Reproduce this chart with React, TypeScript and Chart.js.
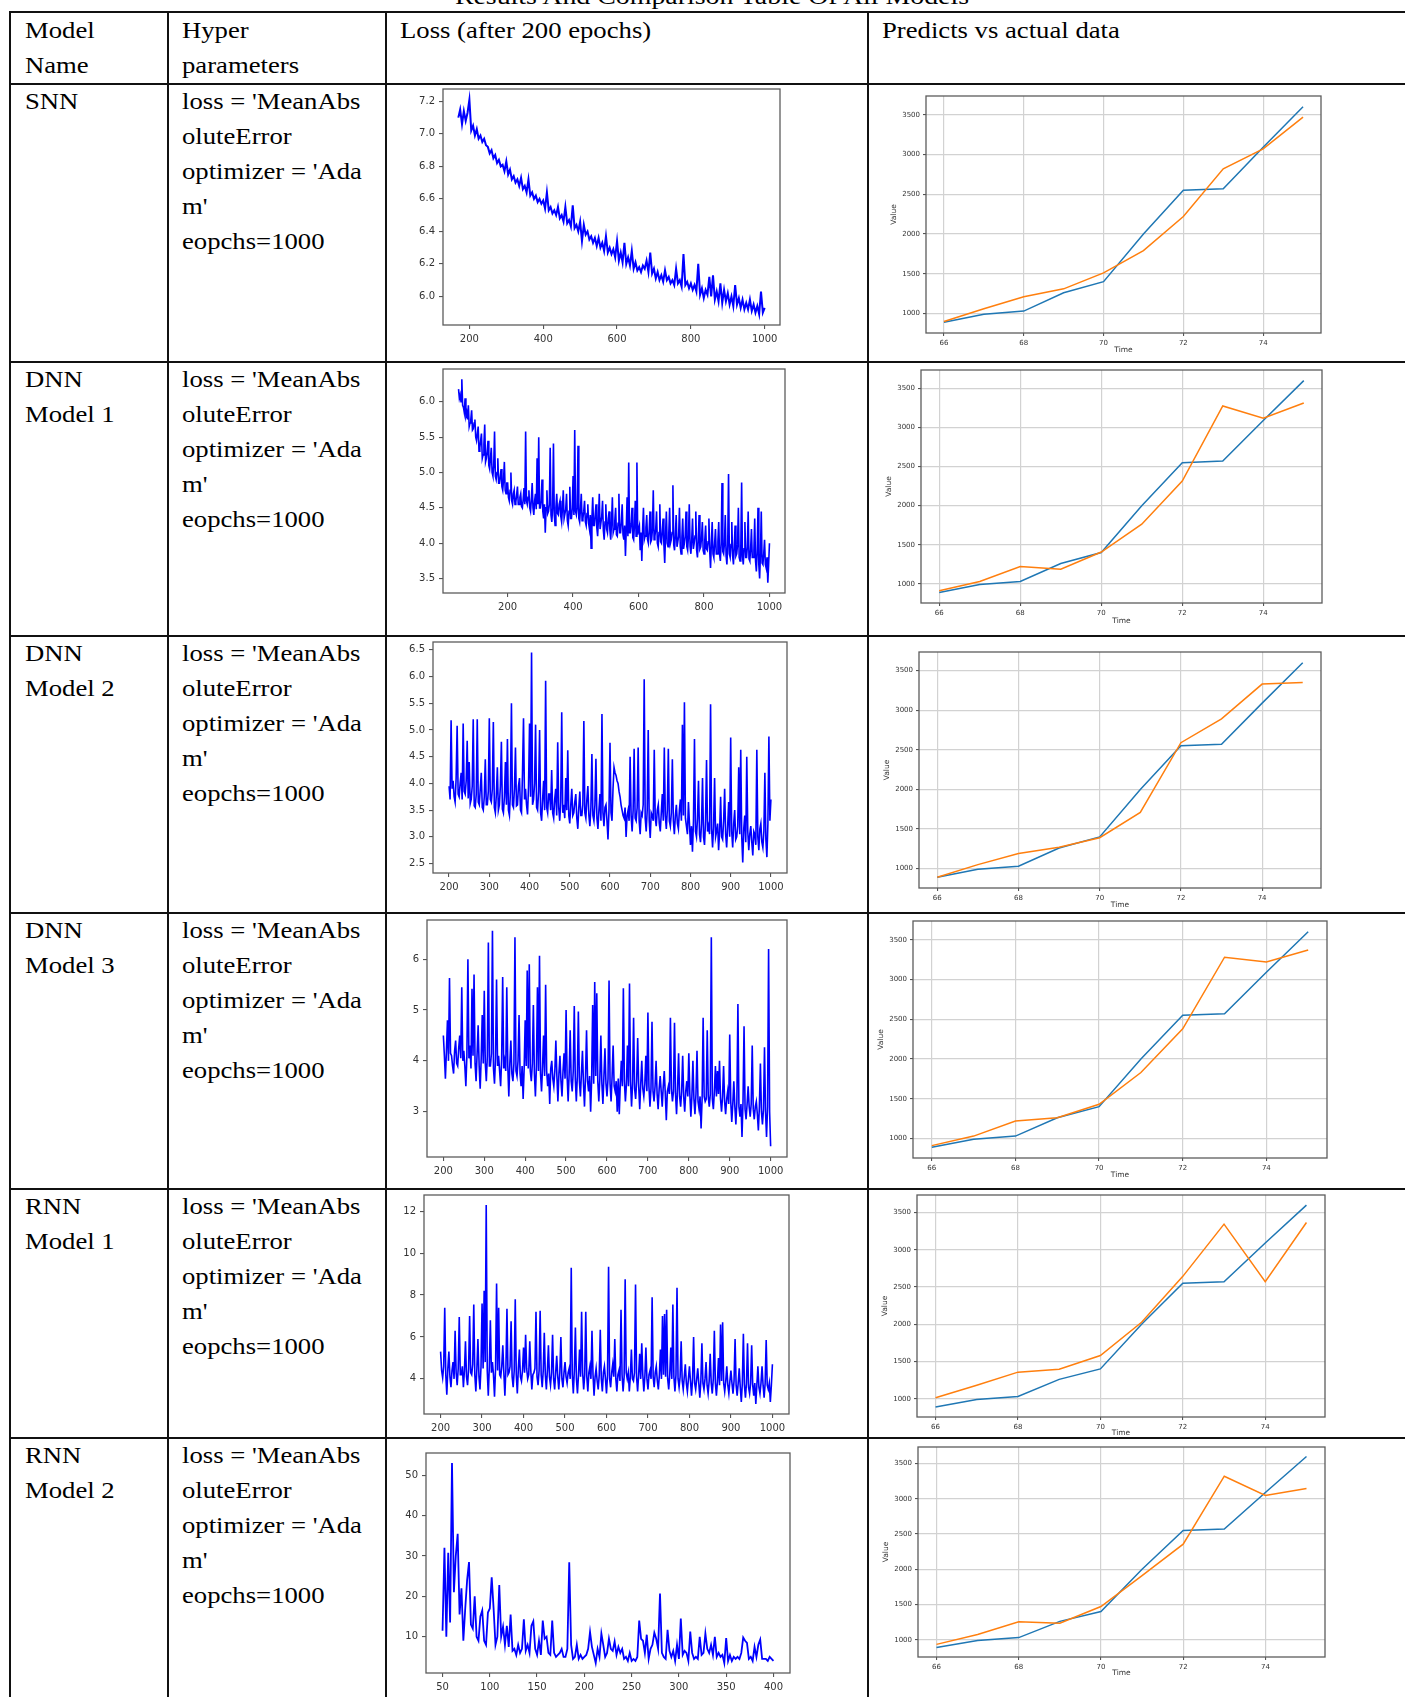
import React, { useEffect, useRef } from "react";
import { Chart, registerables } from "chart.js";

Chart.register(...registerables);

// ---------------- text ----------------
const TITLE = "Results And Comparison Table Of All Models";
const HEADER_MODEL = ["Model", "Name"];
const HEADER_HYPER = ["Hyper", "parameters"];
const HEADER_LOSS = ["Loss (after 200 epochs)"];
const HEADER_PRED = ["Predicts vs actual data"];
const MODEL_NAMES = [["SNN"], ["DNN", "Model 1"], ["DNN", "Model 2"], ["DNN", "Model 3"], ["RNN", "Model 1"], ["RNN", "Model 2"]];
const HYPER_LINES = ["loss = 'MeanAbs", "oluteError", "optimizer = 'Ada", "m'", "eopchs=1000"];

// ---------------- predictions vs actual ----------------
const TIME = [66, 67, 68, 69, 70, 71, 72, 73, 74, 75];
const ACTUAL = [890, 990, 1030, 1260, 1400, 2000, 2550, 2570, 3090, 3600];
const PRED_SNN = [900, 1060, 1210, 1310, 1510, 1790, 2220, 2820, 3070, 3470];
const PRED_DNN1 = [910, 1030, 1220, 1186, 1407, 1763, 2314, 3275, 3119, 3314];
const PRED_DNN2 = [890, 1050, 1190, 1270, 1390, 1710, 2590, 2890, 3330, 3350];
const PRED_DNN3 = [910, 1030, 1220, 1260, 1430, 1830, 2380, 3280, 3220, 3370];
const PRED_RNN1 = [1013, 1180, 1357, 1397, 1580, 2026, 2643, 3344, 2571, 3366];
const PRED_RNN2 = [934, 1075, 1254, 1235, 1471, 1909, 2356, 3321, 3048, 3146];
const TIME_TICKS = [66, 68, 70, 72, 74];
const VALUE_TICKS = [1000, 1500, 2000, 2500, 3000, 3500];

// ---------------- loss curves (epoch = start + i*step) ----------------
const LOSS_SNN_START = 170;
const LOSS_SNN_STEP = 5;
const LOSS_SNN = [
  7.10, 7.15, 7.06, 7.14, 7.08, 7.13,
  7.21, 7.02, 7.05, 6.99, 7.03, 6.97, 6.99, 6.95, 6.97, 6.93,
  6.92, 6.88, 6.90, 6.85, 6.87, 6.82, 6.84, 6.80, 6.81, 6.77,
  6.83, 6.75, 6.78, 6.72, 6.74, 6.70, 6.72, 6.68, 6.73, 6.66,
  6.68, 6.64, 6.72, 6.62, 6.64, 6.60, 6.62, 6.58, 6.60, 6.57,
  6.59, 6.54, 6.64, 6.53, 6.55, 6.51, 6.53, 6.50, 6.55, 6.48,
  6.50, 6.46, 6.55, 6.45, 6.47, 6.43, 6.56, 6.42, 6.44, 6.40,
  6.46, 6.34, 6.44, 6.38, 6.40, 6.35, 6.37, 6.33, 6.36, 6.31,
  6.36, 6.30, 6.33, 6.28, 6.37, 6.27, 6.30, 6.26, 6.29, 6.24,
  6.34, 6.22, 6.27, 6.21, 6.33, 6.20, 6.24, 6.19, 6.28, 6.17,
  6.21, 6.16, 6.18, 6.15, 6.19, 6.17, 6.22, 6.15, 6.27, 6.14,
  6.17, 6.11, 6.15, 6.10, 6.13, 6.09, 6.16, 6.10, 6.12, 6.08,
  6.10, 6.07, 6.17, 6.08, 6.10, 6.06, 6.26, 6.07, 6.09, 6.05,
  6.08, 6.04, 6.07, 6.03, 6.20, 6.01, 6.05, 5.99, 6.04, 6.01,
  6.12, 6.00, 6.13, 5.98, 6.03, 5.97, 6.08, 5.96, 6.04, 5.97,
  6.02, 5.95, 6.00, 5.94, 6.07, 5.95, 5.99, 5.93, 5.98, 5.92,
  5.96, 5.92, 5.98, 5.91, 5.95, 5.90, 5.94, 5.89, 6.03, 5.90,
  5.93,
];

const LOSS_DNN1_START = 50;
const LOSS_DNN1_STEP = 2.5;
const LOSS_DNN1 = [
  6.18, 6.05, 6.10, 6.00, 6.32, 5.95, 5.92, 5.85, 6.05, 5.80, 5.85, 5.75, 5.95, 5.65, 5.70, 5.75, 5.88, 5.60, 5.62, 5.70,
  5.75, 5.50, 5.45, 5.55, 5.65, 5.30, 5.35, 5.45, 5.55, 5.20, 5.25, 5.40, 5.68, 5.15, 5.20, 5.30, 5.45, 5.10, 5.05, 5.20,
  5.35, 5.00, 4.95, 5.10, 5.58, 4.95, 4.90, 5.00, 5.20, 4.85, 4.85, 4.95, 5.05, 4.80, 4.75, 4.90, 5.15, 4.75, 4.70, 4.85,
  4.85, 4.65, 4.60, 4.75, 5.00, 4.60, 4.55, 4.70, 4.75, 4.55, 4.58, 4.68, 4.80, 4.55, 4.55, 4.65, 4.70, 4.52, 4.50, 4.62,
  4.78, 4.55, 5.58, 4.60, 4.55, 4.65, 4.75, 4.50, 4.45, 4.62, 4.85, 4.50, 4.40, 4.60, 4.70, 4.48, 5.20, 4.55, 5.50, 4.50,
  4.50, 4.60, 4.90, 4.45, 4.35, 4.55, 4.15, 4.50, 4.75, 4.42, 4.45, 4.55, 5.35, 4.40, 4.30, 4.50, 5.41, 4.40, 4.25, 4.50,
  4.70, 4.42, 4.40, 4.55, 4.60, 4.38, 4.30, 4.50, 4.75, 4.35, 4.35, 4.48, 4.70, 4.32, 4.25, 4.45, 4.80, 4.35, 4.35, 4.50,
  4.95, 4.40, 5.60, 4.45, 4.40, 4.50, 5.38, 4.35, 4.30, 4.48, 4.70, 4.32, 4.35, 4.45, 4.60, 4.30, 4.25, 4.42, 4.55, 4.28,
  4.20, 4.40, 3.93, 4.35, 4.65, 4.25, 4.25, 4.40, 4.55, 4.22, 4.10, 4.35, 4.70, 4.20, 4.20, 4.38, 4.60, 4.18, 4.05, 4.30,
  4.55, 4.20, 4.15, 4.35, 4.45, 4.18, 4.05, 4.30, 4.65, 4.15, 4.20, 4.32, 4.50, 4.12, 4.10, 4.28, 4.70, 4.15, 4.15, 4.30,
  4.55, 4.12, 4.05, 4.25, 3.82, 4.20, 4.65, 4.10, 5.14, 4.15, 4.15, 4.28, 4.50, 4.08, 4.05, 4.25, 4.60, 4.10, 5.14, 4.12,
  4.20, 4.25, 3.90, 4.15, 3.75, 4.20, 4.50, 4.05, 4.10, 4.22, 4.40, 4.05, 4.00, 4.18, 4.45, 4.02, 4.05, 4.20, 4.75, 4.05,
  4.10, 4.20, 4.45, 4.00, 3.95, 4.15, 4.55, 4.02, 4.00, 4.18, 4.35, 3.98, 3.72, 4.12, 4.45, 4.00, 3.95, 4.15, 4.50, 4.00,
  4.05, 4.15, 4.82, 3.98, 3.90, 4.12, 4.40, 3.95, 3.95, 4.10, 4.50, 3.95, 3.85, 4.08, 4.35, 3.92, 4.00, 4.10, 4.45, 3.95,
  3.90, 4.10, 4.55, 3.95, 3.85, 4.05, 4.35, 3.92, 4.00, 4.10, 4.45, 3.90, 3.80, 4.05, 4.40, 3.92, 3.95, 4.08, 4.30, 3.90,
  3.85, 4.05, 4.25, 3.92, 3.90, 4.02, 4.35, 3.88, 3.65, 4.00, 4.30, 3.85, 3.80, 4.00, 4.20, 3.85, 3.85, 4.02, 4.30, 3.85,
  3.75, 4.00, 4.85, 3.88, 3.85, 4.00, 4.40, 3.82, 3.70, 3.98, 4.98, 3.85, 3.80, 3.98, 4.30, 3.82, 3.70, 3.95, 4.25, 3.82,
  3.85, 3.98, 4.50, 3.80, 3.75, 3.95, 4.86, 3.82, 3.70, 3.92, 4.30, 3.80, 3.80, 3.95, 4.45, 3.78, 3.75, 3.92, 4.20, 3.80,
  3.80, 3.90, 4.35, 3.75, 3.60, 3.88, 4.50, 3.70, 3.50, 3.85, 4.45, 3.72, 3.70, 3.85, 4.05, 3.70, 3.65, 3.80, 3.44, 3.70,
  4.00,
];

const LOSS_DNN2_START = 200;
const LOSS_DNN2_STEP = 2.5;
const LOSS_DNN2 = [
  3.95, 3.70, 5.18, 3.90, 4.05, 3.75, 3.65, 4.10, 5.08, 3.80, 3.75, 4.00, 4.20, 3.70, 5.12, 3.85, 3.80, 4.05, 4.80, 3.72,
  4.40, 3.62, 3.70, 3.95, 5.20, 3.58, 3.55, 3.80, 5.20, 3.65, 3.60, 3.90, 4.20, 3.55, 3.50, 3.75, 4.45, 3.60, 3.60, 3.85,
  5.22, 3.70, 3.65, 3.90, 5.15, 3.55, 3.45, 3.80, 4.30, 3.50, 3.60, 3.95, 4.78, 3.52, 3.45, 3.75, 4.40, 3.60, 4.83, 3.50,
  3.40, 3.85, 5.50, 3.60, 3.55, 3.90, 4.67, 3.58, 3.60, 3.95, 4.10, 3.50, 3.45, 4.20, 5.22, 3.70, 3.90, 3.60, 3.42, 3.95,
  5.12, 3.75, 6.45, 3.60, 3.70, 4.00, 5.10, 3.55, 3.50, 3.85, 5.00, 3.45, 3.30, 3.70, 4.05, 3.50, 5.92, 3.55, 3.45, 3.80,
  3.80, 3.50, 4.25, 3.45, 3.35, 3.70, 3.90, 3.40, 4.77, 3.55, 3.30, 3.65, 5.33, 3.45, 3.60, 3.35, 4.10, 3.50, 4.62, 3.40,
  3.25, 3.60, 3.90, 3.40, 3.45, 3.65, 3.80, 3.35, 3.15, 3.55, 3.85, 3.40, 3.40, 3.60, 5.17, 3.45, 3.35, 3.70, 3.95, 3.40,
  3.20, 3.55, 4.55, 3.40, 3.30, 3.60, 4.46, 3.35, 3.15, 3.50, 3.80, 3.30, 5.30, 3.45, 3.20, 3.55, 3.60, 3.30, 2.95, 3.50,
  4.76, 3.45, 3.30, 3.90, 4.30, 4.20, 4.15, 4.05, 4.00, 3.85, 3.75, 3.60, 3.50, 3.40, 3.35, 3.55, 3.00, 3.40, 3.50, 3.30,
  4.50, 3.40, 3.10, 3.50, 4.65, 3.35, 3.30, 3.55, 4.67, 3.30, 3.05, 3.45, 3.40, 3.60, 5.95, 3.35, 3.10, 3.50, 5.00, 3.30,
  2.98, 3.45, 3.40, 3.30, 4.63, 3.35, 3.20, 3.50, 3.60, 3.25, 3.10, 3.45, 3.80, 3.30, 4.67, 3.40, 3.15, 3.50, 4.65, 3.30,
  3.20, 3.45, 4.45, 3.30, 3.05, 3.40, 3.60, 3.25, 3.15, 3.50, 3.70, 3.30, 5.10, 3.40, 5.52, 3.35, 3.20, 3.05, 3.65, 3.25,
  2.85, 3.20, 2.72, 3.30, 4.83, 3.10, 3.00, 3.35, 4.05, 3.05, 2.90, 3.25, 4.10, 3.00, 2.85, 3.30, 4.44, 3.10, 3.20, 3.05,
  5.48, 3.15, 2.80, 3.20, 4.10, 3.00, 3.10, 3.25, 2.75, 3.10, 3.75, 3.00, 2.95, 3.30, 3.90, 3.05, 2.80, 3.20, 3.65, 3.00,
  4.86, 3.10, 2.80, 3.25, 3.50, 2.95, 3.00, 3.20, 4.30, 3.05, 4.63, 3.00, 2.52, 3.15, 3.40, 2.90, 4.50, 3.10, 2.75, 3.05,
  3.20, 2.90, 2.65, 3.10, 3.05, 2.85, 4.63, 3.00, 2.75, 3.15, 3.25, 2.90, 2.80, 3.10, 4.20, 2.95, 2.62, 3.25, 4.88, 3.30,
  3.70,
];

const LOSS_DNN3_START = 200;
const LOSS_DNN3_STEP = 2.5;
const LOSS_DNN3 = [
  4.50, 4.10, 3.65, 4.20, 4.80, 4.00, 5.63, 4.15, 4.10, 3.90, 3.75, 4.20, 4.40, 3.95, 3.90, 4.25, 4.50, 4.05, 5.45, 4.00,
  4.20, 3.90, 3.50, 4.10, 6.00, 4.05, 4.30, 3.85, 5.42, 4.10, 5.70, 3.95, 3.60, 4.15, 4.70, 3.90, 3.45, 4.05, 4.90, 3.95,
  5.38, 3.95, 3.60, 4.10, 6.33, 3.90, 3.90, 4.15, 6.56, 3.85, 3.55, 4.05, 5.60, 3.90, 4.10, 3.80, 3.50, 4.05, 5.65, 3.85,
  4.00, 3.80, 5.45, 3.90, 3.30, 3.95, 4.40, 3.75, 3.60, 3.95, 6.43, 3.80, 3.70, 4.00, 4.90, 3.75, 3.50, 3.90, 3.25, 3.85,
  4.80, 3.90, 5.78, 3.85, 5.90, 3.80, 3.60, 3.95, 5.10, 3.75, 3.30, 3.90, 5.45, 3.80, 6.07, 3.75, 3.40, 3.90, 4.50, 3.70,
  5.50, 3.80, 3.50, 3.75, 3.15, 3.85, 4.00, 3.65, 3.50, 3.80, 4.40, 3.70, 3.20, 3.75, 4.10, 3.60, 3.30, 3.80, 4.15, 3.65,
  5.00, 3.70, 3.20, 3.75, 4.60, 3.60, 3.40, 3.80, 5.08, 3.65, 3.20, 3.70, 4.97, 3.60, 3.30, 3.75, 4.20, 3.55, 3.10, 3.70,
  4.60, 3.60, 3.40, 3.70, 3.00, 3.65, 5.10, 3.55, 5.55, 3.70, 5.33, 3.60, 3.20, 3.65, 4.50, 3.55, 3.15, 3.70, 4.25, 3.55,
  3.30, 3.65, 5.58, 3.55, 3.20, 3.70, 4.30, 3.50, 3.40, 3.60, 3.00, 3.65, 2.95, 3.55, 4.00, 3.50, 5.43, 3.60, 3.20, 3.55,
  4.30, 3.50, 5.52, 3.60, 3.10, 3.55, 4.85, 3.45, 3.25, 3.60, 4.45, 3.50, 3.05, 3.55, 4.00, 3.45, 3.30, 3.55, 4.10, 3.40,
  4.95, 3.50, 3.10, 3.45, 4.77, 3.40, 3.20, 3.50, 4.00, 3.35, 3.05, 3.45, 3.70, 3.40, 3.10, 3.50, 3.80, 3.35, 2.83, 3.40,
  3.50, 3.35, 4.85, 3.45, 3.20, 3.40, 4.75, 3.35, 2.95, 3.45, 4.15, 3.30, 3.10, 3.40, 4.10, 3.30, 3.00, 3.40, 3.60, 3.30,
  4.15, 3.35, 2.90, 3.30, 4.00, 3.25, 2.95, 3.35, 4.20, 3.20, 3.05, 3.30, 2.67, 3.25, 4.85, 3.30, 3.20, 3.25, 4.60, 3.30,
  3.10, 3.35, 6.43, 3.25, 3.05, 3.40, 3.90, 3.30, 3.80, 3.35, 4.00, 3.25, 3.00, 3.30, 3.90, 3.20, 2.95, 3.25, 3.40, 3.15,
  4.52, 3.20, 2.80, 3.15, 3.60, 3.10, 2.75, 3.20, 5.12, 3.10, 2.90, 3.15, 2.50, 3.20, 4.68, 3.05, 2.85, 3.15, 3.50, 3.10,
  2.90, 3.15, 4.30, 3.05, 2.85, 3.10, 3.20, 2.95, 2.63, 3.10, 3.95, 3.00, 2.75, 3.05, 4.27, 3.00, 2.50, 3.10, 6.20, 3.00,
  2.32,
];

const LOSS_RNN1_START = 200;
const LOSS_RNN1_STEP = 2.5;
const LOSS_RNN1 = [
  5.30, 4.40, 4.05, 4.60, 7.40, 4.20, 3.25, 4.50, 5.30, 4.10, 3.60, 4.40, 4.80, 4.00, 6.30, 4.30, 3.70, 4.50, 6.95, 4.20,
  4.20, 4.60, 3.60, 4.40, 5.80, 4.10, 3.70, 4.50, 7.00, 4.30, 4.20, 4.70, 7.55, 4.20, 3.40, 4.50, 5.90, 4.10, 3.50, 4.60,
  7.60, 4.50, 8.20, 4.80, 12.30, 4.40, 3.20, 4.60, 6.80, 4.30, 4.80, 4.20, 3.15, 4.50, 8.55, 4.40, 7.40, 4.20, 4.10, 4.60,
  5.60, 4.30, 3.20, 4.50, 7.35, 4.20, 4.30, 4.60, 6.75, 4.10, 3.60, 4.40, 7.80, 4.20, 3.30, 4.50, 5.40, 4.10, 3.90, 4.40,
  5.50, 4.30, 6.10, 4.50, 4.00, 4.20, 5.80, 4.40, 3.50, 4.20, 4.30, 4.50, 7.20, 4.10, 3.70, 4.40, 7.25, 4.20, 3.60, 4.40,
  6.20, 4.20, 3.50, 4.40, 5.60, 4.10, 3.70, 4.30, 6.10, 4.00, 3.50, 4.30, 5.10, 4.10, 3.50, 4.30, 6.00, 4.00, 3.60, 4.30,
  4.80, 4.10, 3.80, 4.30, 4.50, 4.00, 9.30, 4.20, 3.30, 4.40, 6.45, 4.00, 3.30, 4.20, 5.40, 4.10, 7.20, 4.30, 3.50, 4.20,
  7.20, 4.10, 3.40, 4.30, 4.60, 4.00, 6.30, 4.20, 3.20, 4.10, 4.50, 3.90, 3.50, 4.20, 6.35, 4.00, 3.40, 4.30, 4.60, 4.00,
  3.30, 4.20, 9.35, 4.00, 3.60, 4.30, 4.70, 4.10, 5.90, 4.00, 3.40, 4.20, 4.40, 3.90, 7.30, 4.20, 3.40, 4.10, 8.75, 4.30,
  4.00, 4.30, 3.40, 4.10, 5.40, 4.00, 3.90, 4.30, 8.50, 4.10, 3.40, 4.20, 5.20, 4.00, 5.70, 4.20, 3.40, 4.10, 5.50, 4.00,
  3.50, 4.20, 4.40, 4.00, 7.90, 4.10, 3.60, 4.30, 4.60, 3.90, 3.50, 4.20, 5.40, 4.00, 7.00, 4.20, 7.10, 4.10, 7.30, 4.00,
  3.50, 4.20, 5.50, 4.00, 7.55, 4.10, 3.40, 4.20, 8.35, 4.00, 3.60, 4.10, 5.80, 3.90, 3.50, 4.10, 4.70, 3.80, 3.40, 4.00,
  4.60, 3.90, 3.20, 4.00, 6.00, 3.80, 3.50, 4.00, 4.50, 3.80, 3.10, 3.90, 5.70, 3.80, 3.50, 4.00, 4.80, 3.70, 3.30, 3.90,
  5.20, 3.80, 3.30, 4.00, 6.30, 3.80, 3.20, 3.90, 5.00, 3.70, 6.60, 3.90, 6.70, 3.80, 3.40, 3.90, 4.60, 3.70, 3.30, 3.90,
  4.40, 3.80, 3.30, 3.90, 5.90, 3.70, 3.20, 3.80, 4.50, 3.60, 2.90, 3.80, 6.15, 3.70, 3.10, 3.80, 5.70, 3.60, 3.30, 3.80,
  5.60, 3.70, 3.20, 3.80, 2.80, 3.70, 4.60, 3.60, 3.30, 3.80, 4.60, 3.70, 3.10, 3.80, 5.85, 3.70, 3.50, 3.80, 2.90, 3.70,
  4.70,
];

const LOSS_RNN2_START = 50;
const LOSS_RNN2_STEP = 2;
const LOSS_RNN2 = [
  11.5, 32, 10, 30.8, 13.5, 53, 21, 30, 35.5, 15.5,
  22, 9, 17, 24, 28.5, 13, 12, 20, 10, 9,
  15, 16.5, 9, 8, 16, 17, 24.7, 17, 8, 10,
  22.8, 10, 12.5, 8, 12.7, 7.5, 15.5, 6.5, 7, 5.5,
  8, 6, 7, 14.3, 6.5, 8, 6, 12.7, 13.8, 7,
  5.5, 9, 5.5, 14, 9.5, 10, 6, 5.5, 14, 6,
  5, 5.5, 6, 7, 5, 5, 7, 28.4, 8, 4.5,
  5, 8, 4.5, 5.5, 4.5, 5, 5.5, 7, 11.2, 7.5,
  5.5, 3.5, 7, 5, 10.8, 8, 5, 6, 9.5, 7,
  6.5, 8.8, 5.5, 7.5, 6, 7, 4.5, 5, 4, 6,
  4, 4.5, 4, 5, 14, 9.5, 9, 6, 10.5, 4.5,
  7, 8, 11, 9.5, 7, 20.7, 6, 5, 4.5, 11.7,
  6.5, 5, 6.5, 4, 8, 4.5, 14.5, 5.5, 6.5, 6,
  4, 11.3, 6, 4.5, 5, 4.5, 10, 5.5, 6, 10.8,
  7, 6, 8, 5.5, 10, 5, 6, 5, 5.5, 3.5,
  9.7, 4, 5.5, 4, 5, 4.5, 5, 4.5, 6, 9.8,
  9, 8.5, 4.5, 5, 4, 7.5, 5, 8, 9.3, 4.5,
  4.5, 4.5, 4, 5, 4.5, 4,
];

const EPOCH_TICKS_200 = [200, 400, 600, 800, 1000];
const EPOCH_TICKS_100 = [200, 300, 400, 500, 600, 700, 800, 900, 1000];
const EPOCH_TICKS_50 = [50, 100, 150, 200, 250, 300, 350, 400];
const SNN_LOSS_TICKS = [6.0, 6.2, 6.4, 6.6, 6.8, 7.0, 7.2];
const DNN1_LOSS_TICKS = [3.5, 4.0, 4.5, 5.0, 5.5, 6.0];
const DNN2_LOSS_TICKS = [2.5, 3.0, 3.5, 4.0, 4.5, 5.0, 5.5, 6.0, 6.5];
const DNN3_LOSS_TICKS = [3, 4, 5, 6];
const RNN1_LOSS_TICKS = [4, 6, 8, 10, 12];
const RNN2_LOSS_TICKS = [10, 20, 30, 40, 50];

// ---------------- layout ----------------
const W = 1405;
const H = 1697;
const COL_X = [10, 168, 386, 868];
const ROW_TOPS = [84, 362, 636, 913, 1189, 1438];
const TOP_LINE = 12;
const TEXT_STRETCH = 1.16;
const SERIF = '"Liberation Serif", "Times New Roman", serif';
const SANS = '"DejaVu Sans", sans-serif';
const LOSS_BLUE = "#0000ff";
const C_BLUE = "#1f77b4";
const C_ORANGE = "#ff7f0e";

type Pt = { x: number; y: number };
type DS = { data: Pt[]; color: string; width: number };
type Spec = {
  frame: [number, number, number, number];
  yw: number;
  xh: number;
  datasets: DS[];
  xTicks: number[];
  yTicks: number[];
  yDec: number;
  tickSize: number;
  tickLen: number;
  tickPad: number;
  grid: boolean;
  xTitle?: string;
  yTitle?: string;
};

const series = (start: number, step: number, vals: number[]): Pt[] =>
  vals.map((v, i) => ({ x: start + i * step, y: v }));
const pairs = (xs: number[], ys: number[]): Pt[] => xs.map((x, i) => ({ x, y: ys[i] }));

const framePlugin = {
  id: "mplFrame",
  afterDatasetsDraw(chart: any) {
    const { ctx, chartArea } = chart;
    ctx.save();
    ctx.strokeStyle = "#5c5c5c";
    ctx.lineWidth = 1.3;
    ctx.strokeRect(chartArea.left, chartArea.top, chartArea.right - chartArea.left, chartArea.bottom - chartArea.top);
    ctx.restore();
  },
};

const PAD_TOP = 14;
const PAD_RIGHT = 14;

function MplChart({ spec }: { spec: Spec }) {
  const ref = useRef<HTMLCanvasElement | null>(null);
  const [fx, fy, fw, fh] = spec.frame;
  const cw = spec.yw + fw + PAD_RIGHT;
  const ch = PAD_TOP + fh + spec.xh;
  useEffect(() => {
    const all = spec.datasets.flatMap((d) => d.data);
    const xs = all.map((p) => p.x);
    const ys = all.map((p) => p.y);
    const x0 = Math.min(...xs), x1 = Math.max(...xs);
    const y0 = Math.min(...ys), y1 = Math.max(...ys);
    const mx = (x1 - x0) * 0.05, my = (y1 - y0) * 0.05;
    const tickFont = { family: SANS, size: spec.tickSize };
    const titleFont = { family: SANS, size: spec.tickSize + 0.5 };
    const chart = new Chart(ref.current as HTMLCanvasElement, {
      type: "line",
      data: {
        datasets: spec.datasets.map((d) => ({
          data: d.data,
          borderColor: d.color,
          backgroundColor: d.color,
          borderWidth: d.width,
          pointRadius: 0,
          tension: 0,
          fill: false,
          borderJoinStyle: "miter",
        })),
      },
      options: {
        responsive: false,
        animation: false,
        events: [],
        devicePixelRatio: 1,
        layout: { padding: { top: PAD_TOP, right: PAD_RIGHT, left: 0, bottom: 0 } },
        plugins: { legend: { display: false }, tooltip: { enabled: false } },
        scales: {
          x: {
            type: "linear",
            min: x0 - mx,
            max: x1 + mx,
            afterBuildTicks: (s: any) => {
              s.ticks = spec.xTicks.map((v) => ({ value: v }));
            },
            afterFit: (s: any) => {
              s.height = spec.xh;
            },
            grid: {
              display: true,
              drawOnChartArea: spec.grid,
              color: "#d2d2d2",
              lineWidth: 1.2,
              tickLength: spec.tickLen,
              tickColor: "#444",
              tickWidth: 1,
            },
            border: { display: false },
            ticks: {
              font: tickFont,
              color: "#333",
              padding: spec.tickPad,
              maxRotation: 0,
              autoSkip: false,
              callback: (v: any) => String(v),
            },
            title: spec.xTitle
              ? { display: true, text: spec.xTitle, font: titleFont, color: "#333", padding: 0 }
              : { display: false },
          },
          y: {
            type: "linear",
            min: y0 - my,
            max: y1 + my,
            afterBuildTicks: (s: any) => {
              s.ticks = spec.yTicks.map((v) => ({ value: v }));
            },
            afterFit: (s: any) => {
              s.width = spec.yw;
            },
            grid: {
              display: true,
              drawOnChartArea: spec.grid,
              color: "#d2d2d2",
              lineWidth: 1.2,
              tickLength: spec.tickLen,
              tickColor: "#444",
              tickWidth: 1,
            },
            border: { display: false },
            ticks: {
              font: tickFont,
              color: "#333",
              padding: spec.tickPad,
              autoSkip: false,
              callback: (v: any) => Number(v).toFixed(spec.yDec),
            },
            title: spec.yTitle
              ? { display: true, text: spec.yTitle, font: titleFont, color: "#333", padding: 0 }
              : { display: false },
          },
        },
      },
      plugins: [framePlugin],
    } as any);
    return () => chart.destroy();
  }, []);
  return (
    <canvas
      ref={ref}
      width={cw}
      height={ch}
      style={{ position: "absolute", left: fx - spec.yw, top: fy - PAD_TOP, width: cw, height: ch }}
    />
  );
}

const lossSpec = (
  frame: [number, number, number, number],
  data: Pt[],
  xTicks: number[],
  yTicks: number[],
  yDec: number,
  width: number
): Spec => ({
  frame,
  yw: 40,
  xh: 26,
  datasets: [{ data, color: LOSS_BLUE, width }],
  xTicks,
  yTicks,
  yDec,
  tickSize: 10,
  tickLen: 4,
  tickPad: 4,
  grid: false,
});

const predSpec = (frame: [number, number, number, number], pred: number[], xh: number): Spec => ({
  frame,
  yw: 36,
  xh,
  datasets: [
    { data: pairs(TIME, pred), color: C_ORANGE, width: 1.5 },
    { data: pairs(TIME, ACTUAL), color: C_BLUE, width: 1.5 },
  ],
  xTicks: TIME_TICKS,
  yTicks: VALUE_TICKS,
  yDec: 0,
  tickSize: 7,
  tickLen: 3,
  tickPad: 3,
  grid: true,
  xTitle: "Time",
  yTitle: "Value",
});

const LOSS_SPECS: Spec[] = [
  lossSpec([443, 89, 337, 236], series(LOSS_SNN_START, LOSS_SNN_STEP, LOSS_SNN), EPOCH_TICKS_200, SNN_LOSS_TICKS, 1, 2),
  lossSpec([443, 369, 342, 224], series(LOSS_DNN1_START, LOSS_DNN1_STEP, LOSS_DNN1), EPOCH_TICKS_200, DNN1_LOSS_TICKS, 1, 1.6),
  lossSpec([433, 642, 354, 231], series(LOSS_DNN2_START, LOSS_DNN2_STEP, LOSS_DNN2), EPOCH_TICKS_100, DNN2_LOSS_TICKS, 1, 1.6),
  lossSpec([427, 920, 360, 237], series(LOSS_DNN3_START, LOSS_DNN3_STEP, LOSS_DNN3), EPOCH_TICKS_100, DNN3_LOSS_TICKS, 0, 1.6),
  lossSpec([424, 1195, 365, 219], series(LOSS_RNN1_START, LOSS_RNN1_STEP, LOSS_RNN1), EPOCH_TICKS_100, RNN1_LOSS_TICKS, 0, 1.6),
  lossSpec([426, 1453, 364, 220], series(LOSS_RNN2_START, LOSS_RNN2_STEP, LOSS_RNN2), EPOCH_TICKS_50, RNN2_LOSS_TICKS, 0, 1.8),
];

const PRED_SPECS: Spec[] = [
  predSpec([926, 96, 395, 237], PRED_SNN, 22),
  predSpec([921, 370, 401, 233], PRED_DNN1, 23),
  predSpec([919, 652, 402, 236], PRED_DNN2, 22),
  predSpec([913, 921, 414, 237], PRED_DNN3, 22),
  predSpec([917, 1195, 408, 222], PRED_RNN1, 21),
  predSpec([918, 1447, 407, 210], PRED_RNN2, 21),
];

function TextBlock({ x, y, lines }: { x: number; y: number; lines: string[] }) {
  return (
    <div
      style={{
        position: "absolute",
        left: x,
        top: y,
        fontFamily: SERIF,
        fontSize: 23,
        lineHeight: "35px",
        whiteSpace: "pre",
        color: "#000",
        transform: `scaleX(${TEXT_STRETCH})`,
        transformOrigin: "0 0",
      }}
    >
      {lines.map((l, i) => (
        <div key={i}>{l}</div>
      ))}
    </div>
  );
}

export default function App() {
  const lineColor = "#111";
  const hLines = [TOP_LINE, ...ROW_TOPS];
  return (
    <div
      style={{
        position: "absolute",
        left: 0,
        top: 0,
        width: W,
        height: H,
        overflow: "hidden",
        background: "#fff",
      }}
    >
      <div
        style={{
          position: "absolute",
          left: 0,
          top: -21,
          width: 1424,
          textAlign: "center",
          fontFamily: SERIF,
          fontSize: 24,
          lineHeight: "35px",
          whiteSpace: "pre",
          transform: `scaleX(${TEXT_STRETCH})`,
          transformOrigin: "712px 0",
        }}
      >
        {TITLE}
      </div>
      {hLines.map((y, i) => (
        <div key={"h" + i} style={{ position: "absolute", left: COL_X[0] - 1, top: y - 1, width: W - COL_X[0] + 1, height: 2, background: lineColor }} />
      ))}
      {COL_X.map((x, i) => (
        <div key={"v" + i} style={{ position: "absolute", left: x - 1, top: TOP_LINE - 1, width: 2, height: H - TOP_LINE + 1, background: lineColor }} />
      ))}
      <TextBlock x={25} y={13} lines={HEADER_MODEL} />
      <TextBlock x={182} y={13} lines={HEADER_HYPER} />
      <TextBlock x={400} y={13} lines={HEADER_LOSS} />
      <TextBlock x={882} y={13} lines={HEADER_PRED} />
      {ROW_TOPS.map((top, i) => (
        <React.Fragment key={"r" + i}>
          <TextBlock x={25} y={top} lines={MODEL_NAMES[i]} />
          <TextBlock x={182} y={top} lines={HYPER_LINES} />
        </React.Fragment>
      ))}
      {LOSS_SPECS.map((s, i) => (
        <MplChart key={"l" + i} spec={s} />
      ))}
      {PRED_SPECS.map((s, i) => (
        <MplChart key={"p" + i} spec={s} />
      ))}
    </div>
  );
}
